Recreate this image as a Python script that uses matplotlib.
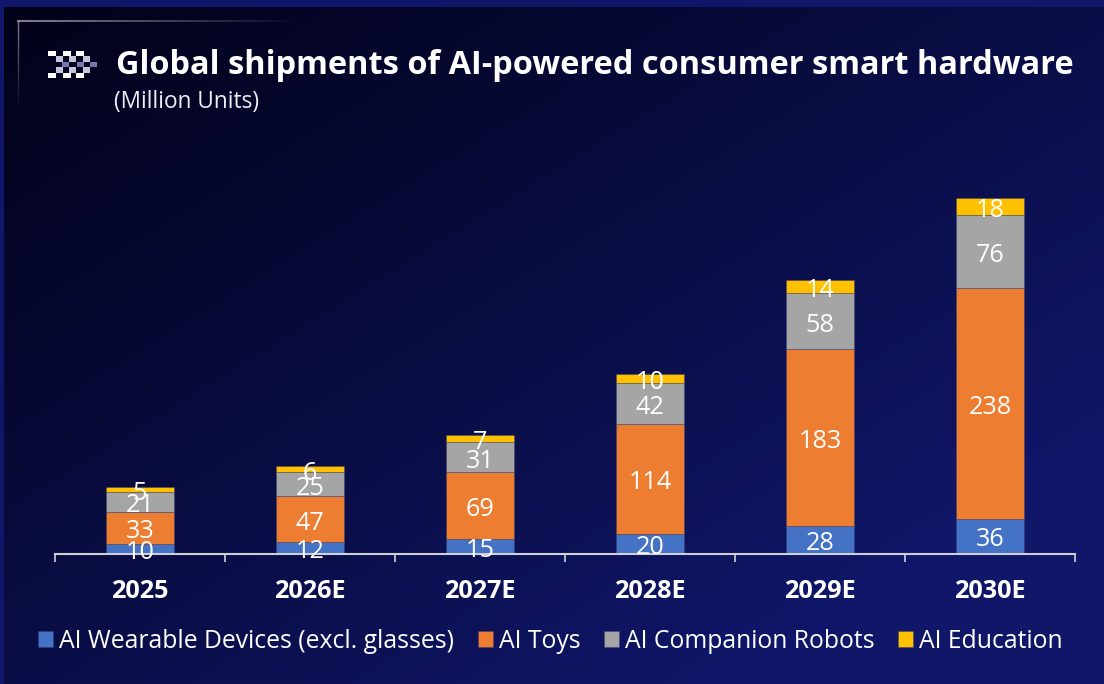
import numpy as np
import matplotlib
matplotlib.use("Agg")
import matplotlib.pyplot as plt
from matplotlib.patches import Rectangle
from matplotlib.colors import to_rgb

categories = ["2025", "2026E", "2027E", "2028E", "2029E", "2030E"]
wearables = [10, 12, 15, 20, 28, 36]
toys = [33, 47, 69, 114, 183, 238]
robots = [21, 25, 31, 42, 58, 76]
education = [5, 6, 7, 10, 14, 18]
series_names = ["AI Wearable Devices (excl. glasses)", "AI Toys", "AI Companion Robots", "AI Education"]
series_colors = ["#4472C4", "#ED7D31", "#A5A5A5", "#FFC000"]
title = "Global shipments of AI-powered consumer smart hardware"
subtitle = "(Million Units)"

W, H = 1104, 684
plt.rcParams["font.family"] = ["Open Sans", "Noto Sans", "DejaVu Sans"]
fig = plt.figure(figsize=(W / 100, H / 100), dpi=100)

# background gradient
bg = fig.add_axes([0, 0, 1, 1], zorder=0)
yy, xx = np.mgrid[0:H, 0:W]
t = np.clip((xx / W * 0.6 + yy / H * 0.6), 0, 1) ** 1.15
c0 = np.array(to_rgb("#02021A"))
c1 = np.array(to_rgb("#10176A"))
img = c0[None, None, :] + (c1 - c0)[None, None, :] * t[..., None]
border = (xx < 4) | (yy < 7)
img[border] = c1
bg.imshow(img, extent=(0, W, H, 0), aspect="auto", interpolation="nearest")
bg.set_xlim(0, W)
bg.set_ylim(H, 0)
bg.axis("off")

# fading corner lines
n = 283
for i in range(0, n, 3):
    a = 0.6 * (1 - i / n)
    bg.plot([17 + i, 17 + i + 3], [21, 21], color="white", alpha=a, lw=1.2, solid_capstyle="butt")
m = 87
for i in range(0, m, 3):
    a = 0.5 * (1 - i / m)
    bg.plot([17.5, 17.5], [21 + i, 21 + i + 3], color="white", alpha=a, lw=1.0, solid_capstyle="butt")

# checker icon
rows = [
    (51, 5, "#FFFFFF", [48, 63, 76], 8),
    (56, 6, "#C4C6DA", [56, 69, 83], 7),
    (62, 5, "#7478AC", [62, 77, 90], 7),
    (67, 6, "#C4C6DA", [56, 69, 83], 7),
    (73, 5, "#FFFFFF", [48, 63, 76], 8),
]
for y, h, c, xs, w in rows:
    for x in xs:
        bg.add_patch(Rectangle((x, y), w, h, fc=c, ec="none"))

# chart axes
left, right, base, top = 55, 1075, 553.5, 197.5
ax = fig.add_axes([left / W, 1 - base / H, (right - left) / W, (base - top) / H], zorder=2)
ax.patch.set_alpha(0)
x = np.arange(len(categories))
bottom = np.zeros(len(categories))
handles = []
for vals, name, col in zip([wearables, toys, robots, education], series_names, series_colors):
    vals = np.array(vals, dtype=float)
    bars = ax.bar(x, vals, 0.4, bottom=bottom, color=col, edgecolor=(0.2, 0.25, 0.45, 0.45), linewidth=0.6, label=name, zorder=2)
    for xi, b, v in zip(x, bottom, vals):
        ax.text(xi, b + v / 2 - 4, f"{int(v)}", ha="center", va="center", color="white", fontsize=18.2, zorder=5)
    bottom += vals
    handles.append(bars)

ax.set_xlim(-0.5, 5.5)
ax.set_ylim(0, 368)
for k in ("top", "left", "right"):
    ax.spines[k].set_visible(False)
ax.spines["bottom"].set_color("#CFCFD6")
ax.spines["bottom"].set_linewidth(1.5)
ax.spines["bottom"].set_zorder(3)
ax.set_yticks([])
ax.set_xticks(np.arange(-0.5, 6, 1))
ax.set_xticklabels([])
ax.tick_params(axis="x", which="major", length=6, width=1.2, color="#CFCFD6", direction="out")
ax.set_xticks(x, minor=True)
ax.set_xticklabels(categories, minor=True, fontsize=18.2, fontweight="bold", color="white")
ax.tick_params(axis="x", which="minor", length=0, pad=18)

fig.text(116 / W, 1 - 66 / H, title, color="white", fontsize=23.4, fontweight="bold", va="center", ha="left", zorder=3)
fig.text(114 / W, 1 - 102 / H, subtitle, color="#EDEDF5", fontsize=16.3, va="center", ha="left", zorder=3)

fig.legend(handles=handles, loc="center left", bbox_to_anchor=(38 / W, 1 - 641 / H), ncol=4, frameon=False,
           fontsize=17.85, labelcolor="white", handlelength=0.6, handleheight=0.6, handletextpad=0.25,
           columnspacing=0.95, borderpad=0, borderaxespad=0)

fig.savefig("out.png", dpi=100)
